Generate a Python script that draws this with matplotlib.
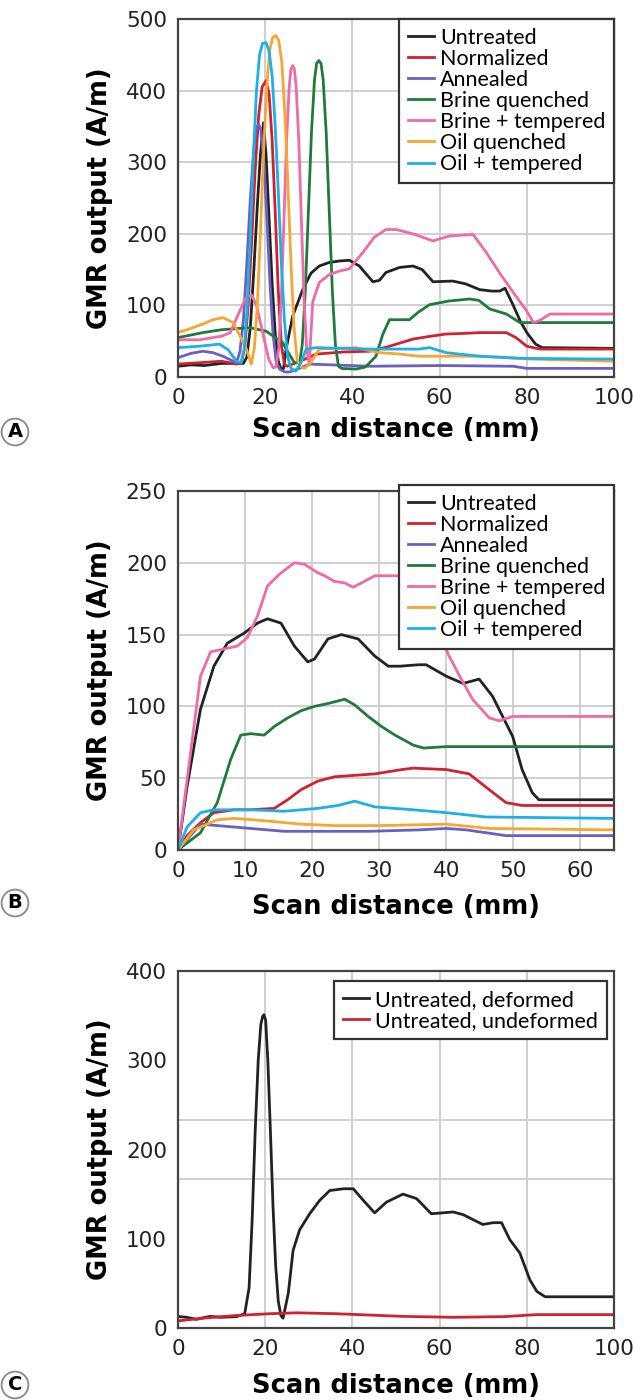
import matplotlib.pyplot as plt

plt.rcParams['font.family'] = ['Lato', 'DejaVu Sans']

# ---------------- panel A data (scan distance mm, GMR A/m) ----------------
a_untreated_x = [0, 3, 6, 10, 14, 15, 15.8, 16.6, 17.4, 18.2, 18.9, 19.6, 20.2, 20.9, 21.6, 22.3, 23, 23.7,
                 24.2, 24.8, 26.3, 28.6, 30.5, 32.4, 34.7, 37, 39.3, 41.6, 43, 44.7, 46.2, 47.7, 50.8,
                 53.9, 56, 58.5, 63, 66, 69.2, 72, 73.8, 75, 76.9, 78.5, 80, 82, 83.5, 100]
a_untreated_y = [15, 17, 16, 19, 19, 19, 28, 70, 150, 240, 310, 355, 310, 220, 130, 60, 22, 10,
                 12, 39, 85, 122, 145, 155, 160, 162, 163, 155, 145, 133, 135, 146, 153,
                 155, 150, 133, 134, 130, 122, 120, 120, 124, 100, 78, 62, 46, 41, 40]

a_normalized_x = [0, 5, 10, 13.5, 14.5, 15.3, 16.1, 16.9, 17.7, 18.5, 19.3, 20.2, 20.9, 21.6, 22.3, 23,
                  23.7, 24.4, 25, 26.3, 28, 31.7, 38, 44, 48, 53.9, 58, 61.5, 66, 69.2, 75.3, 77.5,
                  80, 83, 100]
a_normalized_y = [18, 20, 22, 18, 20, 40, 100, 190, 290, 365, 405, 414, 395, 330, 230, 120,
                  45, 18, 15, 18, 22, 32, 35, 36, 42, 53, 57, 60, 61, 62, 62, 55,
                  43, 39, 39]

a_annealed_x = [0, 3, 5.7, 8, 10.3, 13.4, 14.2, 15, 15.8, 16.6, 17.4, 18, 18.5, 19, 19.7, 20.4, 21.1,
                21.8, 22.5, 23.3, 24.5, 25.6, 27, 30.2, 35, 44, 60, 76.9, 80, 100]
a_annealed_y = [27, 33, 36, 34, 29, 20, 35, 80, 160, 250, 320, 348, 353, 345, 300, 220, 130,
                60, 22, 11, 7, 7, 10, 18, 17, 15, 16, 15, 12, 12]

a_brine_x = [0, 5.7, 10, 16.4, 20.2, 24, 25.5, 26.7, 27.9, 28.5, 29.2, 29.9, 30.6, 31.3, 31.8, 32.3,
             32.8, 33.3, 34, 34.7, 35.4, 36.1, 36.8, 37.5, 40.8, 43, 45.4, 47, 48.5, 51.5, 53.1,
             55, 57.7, 62, 66.9, 69, 71.5, 75.3, 78.4, 80, 100]
a_brine_y = [55, 62, 66, 69, 64, 48, 32, 20, 20, 45, 120, 230, 340, 415, 438, 442,
             438, 415, 340, 230, 120, 45, 15, 12, 11, 14, 29, 60, 80, 80, 80,
             90, 101, 106, 109, 107, 95, 88, 76, 76, 76]

a_brine_temp_x = [0, 5, 10, 12, 14, 15.5, 16.8, 18, 19.5, 20.8, 21.8, 22.5, 23.1, 23.7, 24.3, 24.9,
                  25.5, 25.9, 26.3, 26.7, 27.1, 27.7, 28.3, 28.9, 29.5, 30.1, 30.9, 32.4, 34.7, 37,
                  39.3, 42.4, 45, 47.7, 50, 53.9, 58.5, 60, 62.3, 65, 67.7, 70.7, 73.8, 76.9, 80,
                  81.5, 83, 85.3, 100]
a_brine_temp_y = [52, 52, 57, 62, 90, 110, 115, 100, 60, 25, 13, 14, 40, 110, 220, 330,
                  405, 430, 435, 430, 405, 330, 220, 110, 40, 18, 105, 132, 143, 148,
                  151, 174, 195, 206, 206, 200, 190, 193, 197, 198, 199, 174, 145, 118, 92,
                  76, 79, 88, 88]

a_oil_x = [0, 3, 5.7, 8, 10.3, 12.6, 14, 15.7, 16.8, 17.5, 18.2, 18.9, 19.6, 20.3, 21, 21.7, 22.4,
           23.1, 23.8, 24.5, 25.2, 25.9, 26.6, 27.3, 27.9, 29, 30.2, 32.4, 36, 40.8, 46.2, 50.8,
           55.4, 69.2, 80.8, 100]
a_oil_y = [62, 68, 74, 80, 83, 76, 60, 39, 18, 40, 100, 200, 310, 400, 455, 474, 477,
           470, 440, 370, 270, 160, 70, 25, 15, 12, 18, 39, 40, 41, 34, 32,
           29, 29, 25, 22]

a_oil_temp_x = [0, 5, 9.5, 11.5, 13.4, 14.5, 15.2, 15.9, 16.6, 17.3, 18, 18.7, 19.4, 20.2, 20.9, 21.6,
                22.3, 23, 23.7, 24.4, 25.1, 25.9, 27, 28.2, 29.4, 31.7, 44, 55.3, 57.7, 61.5, 69.2,
                79.2, 100]
a_oil_temp_y = [41, 43, 46, 38, 22, 20, 40, 100, 200, 310, 400, 450, 466, 467, 455, 420,
                350, 260, 160, 80, 30, 12, 8, 20, 39, 41, 39, 39, 41, 34, 29,
                26, 25]

# ---------------- panel B data ----------------
b_untreated_x = [0, 1.35, 3.35, 5.35, 7.35, 9.85, 11.85, 13.35, 15.35, 17.35, 19.35, 20.35, 22.35, 24.35,
                 26.85, 29.35, 31.35, 33.1, 35.85, 37, 40, 42.5, 44.9, 46.9, 49.9, 51.3, 52.8, 53.8, 65]
b_untreated_y = [0, 44, 98, 128, 144, 151, 158, 161, 158, 142, 131, 133, 147, 150,
                 147, 135, 128, 128, 129, 129, 121, 116, 119, 107, 79, 56, 40, 35, 35]

b_normalized_x = [0, 1.35, 3.35, 5.35, 8.35, 10.85, 14.35, 16.35, 18.35, 20.85, 23.35, 26.35, 29.35, 33.35,
                  35.1, 40, 43.4, 46.4, 48.9, 51.3, 65]
b_normalized_y = [0, 10, 19, 26, 28, 28, 29, 35, 42, 48, 51, 52, 53, 56,
                  57, 56, 53, 42, 33, 31, 31]

b_annealed_x = [0, 3.35, 5.85, 10.85, 15.85, 28.35, 35.85, 40, 43, 48.9, 65]
b_annealed_y = [0, 18, 17, 15, 13, 13, 14, 15, 14, 10, 10]

b_brine_x = [0, 3.35, 5.85, 7.85, 9.35, 10.85, 12.85, 14.35, 16.35, 18.35, 20.35, 22.35, 24.85, 26.35,
             28.35, 30.35, 32.35, 35.1, 36.6, 40, 65]
b_brine_y = [0, 12, 33, 63, 80, 81, 80, 86, 92, 97, 100, 102, 105, 101,
             93, 86, 80, 73, 71, 72, 72]

b_brine_temp_x = [0, 1.85, 3.35, 4.85, 6.85, 8.85, 10.35, 11.85, 13.35, 15.35, 17.35, 18.85, 20.85, 21.85,
                  23.35, 24.85, 26.1, 27.35, 29.35, 32.6, 35, 37.5, 39, 40.2, 42, 43.9, 46.4, 47.9, 49.9, 65]
b_brine_temp_y = [0, 67, 121, 138, 140, 142, 148, 163, 184, 193, 200, 199, 193, 191,
                  187, 186, 183, 186, 191, 191, 190, 175, 155, 137, 121, 105, 92, 90, 93, 93]

b_oil_x = [0, 2.35, 5.85, 8.35, 11.35, 18.35, 23.35, 30.1, 40, 46.4, 65]
b_oil_y = [0, 14, 21, 22, 21, 18, 17, 17, 18, 15, 14]

b_oil_temp_x = [0, 1.35, 3.35, 5.35, 10.85, 15.85, 20.85, 23.85, 26.35, 29.35, 35.1, 40, 45.9, 65]
b_oil_temp_y = [0, 16, 26, 28, 28, 27, 29, 31, 34, 30, 28, 26, 23, 22]

# ---------------- panel C data ----------------
c_deformed_x = [0.4, 2, 4.2, 7.3, 10, 13.4, 15.3, 16.3, 17, 17.7, 18.4, 19, 19.4, 19.7, 20.1, 20.6, 21.2,
                21.8, 22.4, 23, 23.6, 24.1, 25.3, 26.4, 27.9, 30.2, 32.5, 34.8, 37.9, 40.2, 42.5,
                45.1, 47.8, 51.6, 54.7, 58.1, 63.1, 65.4, 69.9, 72.3, 74.2, 76.1, 78.4, 80.7, 82.3,
                84.2, 100]
c_deformed_y = [12.7, 12, 9.7, 13, 12, 12.7, 16, 45, 120, 220, 300, 340, 349, 351, 345, 300, 220,
                135, 70, 30, 14, 11, 39, 87, 110, 128, 143, 154, 156, 156, 143,
                129, 141, 150, 145, 128, 130, 127, 116, 118, 118, 99, 84, 54, 41,
                35, 35]

c_undeformed_x = [0, 5.7, 13.4, 21, 27.2, 36.3, 51.6, 63.1, 74.6, 82.3, 100]
c_undeformed_y = [8, 11, 14, 16, 17, 16, 13, 12, 12.7, 15, 15]

labels = ['Untreated', 'Normalized', 'Annealed', 'Brine quenched',
          'Brine + tempered', 'Oil quenched', 'Oil + tempered']
colors = ['#222222', '#d0222e', '#6b5fc4', '#1f7a3c', '#f06aa8', '#f8a531', '#1cb0ea']

series_a = [(a_untreated_x, a_untreated_y), (a_normalized_x, a_normalized_y),
            (a_annealed_x, a_annealed_y), (a_brine_x, a_brine_y),
            (a_brine_temp_x, a_brine_temp_y), (a_oil_x, a_oil_y), (a_oil_temp_x, a_oil_temp_y)]
series_b = [(b_untreated_x, b_untreated_y), (b_normalized_x, b_normalized_y),
            (b_annealed_x, b_annealed_y), (b_brine_x, b_brine_y),
            (b_brine_temp_x, b_brine_temp_y), (b_oil_x, b_oil_y), (b_oil_temp_x, b_oil_temp_y)]

W, H = 635, 1400
fig = plt.figure(figsize=(W / 100, H / 100), dpi=100)
bold_font = ['DejaVu Sans']


def make_axes(top, bottom, left=178, right=614):
    return fig.add_axes([left / W, 1 - bottom / H, (right - left) / W, (bottom - top) / H])


def style(ax, letter, letter_y, xlabel_y):
    ax.grid(True, color='#cccccc', linewidth=1.3)
    ax.set_axisbelow(True)
    for s in ax.spines.values():
        s.set_color('#444444')
        s.set_linewidth(1.6)
    ax.tick_params(length=0, labelsize=15.5, pad=8, colors='#222222')
    for t in ax.get_xticklabels() + ax.get_yticklabels():
        t.set_family(['DejaVu Sans'])
    ax.set_xlabel('Scan distance (mm)', fontsize=18.5, fontweight='bold', family=bold_font,
                  va='center')
    ax.set_ylabel('GMR output (A/m)', fontsize=18.5, fontweight='bold', family=bold_font,
                  va='center')
    # label positions in pixels from the axes box
    box = ax.get_position()
    bottom_px = (1 - box.y0) * H
    ax.xaxis.set_label_coords(0.5, -(xlabel_y - bottom_px) / (box.height * H))
    ax.yaxis.set_label_coords(-(178 - 100) / (box.width * W), 0.5)
    fig.text(15 / W, 1 - letter_y / H, letter, fontsize=14, fontweight='bold',
             family=bold_font, ha='center', va='center',
             bbox=dict(boxstyle='circle,pad=0.2', fc='white', ec='#888888', lw=1.3))


def legend(ax, anchor, loc='upper right'):
    leg = ax.legend(loc=loc, bbox_to_anchor=anchor, borderaxespad=0, fontsize=15.5,
                    fancybox=False, framealpha=1, edgecolor='#333333',
                    handlelength=1.2, handletextpad=0.3, labelspacing=0.05,
                    borderpad=0.4)
    leg.get_frame().set_linewidth(1.6)
    return leg


# ---- A ----
ax_a = make_axes(19, 377)
for (x, y), lab, c in zip(series_a, labels, colors):
    ax_a.plot(x, y, color=c, lw=2, label=lab)
ax_a.set_xlim(0, 100)
ax_a.set_ylim(0, 500)
ax_a.set_xticks(range(0, 101, 20))
ax_a.set_yticks(range(0, 501, 100))
style(ax_a, 'A', 432, 430)
legend(ax_a, (1, 1))

# ---- B ----
ax_b = make_axes(491, 850)
for (x, y), lab, c in zip(series_b, labels, colors):
    ax_b.plot(x, y, color=c, lw=2, label=lab)
ax_b.set_xlim(0, 65)
ax_b.set_ylim(0, 250)
ax_b.set_xticks(range(0, 61, 10))
ax_b.set_yticks(range(0, 251, 50))
style(ax_b, 'B', 903, 907)
legend(ax_b, (1, 1.017))

# ---- C ----
ax_c = make_axes(971, 1328)
ax_c.plot(c_deformed_x, c_deformed_y, color='#222222', lw=2, label='Untreated, deformed')
ax_c.plot(c_undeformed_x, c_undeformed_y, color='#d0222e', lw=2, label='Untreated, undeformed')
ax_c.set_xlim(0, 100)
ax_c.set_ylim(0, 400)
ax_c.set_xticks(range(0, 101, 20))
ax_c.set_yticks(range(0, 401, 100))
ax_c.set_yticks([100, 166.7, 233.3, 300], minor=True)
style(ax_c, 'C', 1385, 1386)
ax_c.grid(False, axis='y', which='major')
ax_c.grid(True, axis='y', which='minor', color='#cccccc', linewidth=1.3)
ax_c.tick_params(which='minor', length=0)
legend(ax_c, (0.983, 0.972))

fig.savefig('out.png', dpi=100)
